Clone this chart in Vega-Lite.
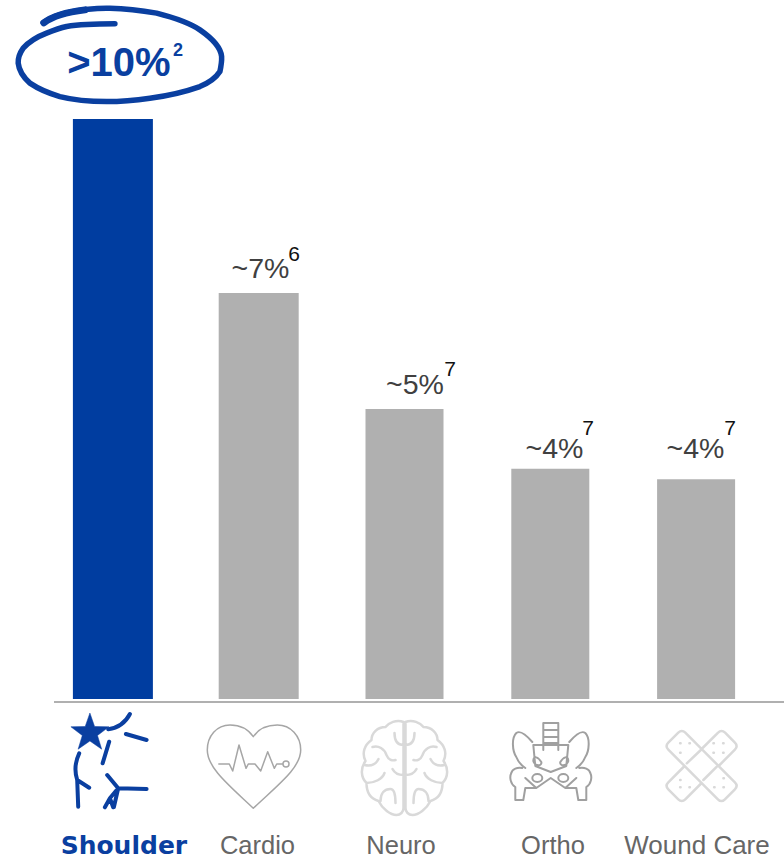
{"$schema":"https://vega.github.io/schema/vega-lite/v6.json","width":784,"height":860,"padding":0,"autosize":{"type":"none"},"background":"white","config":{"view":{"stroke":null}},
"data":{"values":[{"cat":"Shoulder","val":10,"label":">10%","note":"2"},{"cat":"Cardio","val":7,"label":"~7%","note":"6"},{"cat":"Neuro","val":5,"label":"~5%","note":"7"},{"cat":"Ortho","val":3.97,"label":"~4%","note":"7"},{"cat":"Wound Care","val":3.79,"label":"~4%","note":"7"}]},
"encoding":{"x":{"field":"cat","type":"nominal","axis":null,"sort":null,"scale":{"domain":["Shoulder","Cardio","Neuro","Ortho","Wound Care"],"range":[40,769],"paddingInner":0,"paddingOuter":0}},"y":{"field":"val","type":"quantitative","axis":null,"scale":{"domain":[-2.776,12.052],"range":[860,0],"nice":false,"zero":false}}},
"layer":[
{"transform":[{"filter":"datum.cat==='Shoulder'"}],"mark":{"type":"bar","width":80,"color":"#003DA0"},"encoding":{"y2":{"datum":0}}},
{"transform":[{"filter":"datum.cat==='Cardio'"}],"mark":{"type":"bar","width":80,"color":"#B0B0B0"},"encoding":{"y2":{"datum":0}}},
{"transform":[{"filter":"datum.cat!=='Shoulder'&&datum.cat!=='Cardio'"}],"mark":{"type":"bar","width":78,"color":"#B0B0B0"},"encoding":{"y2":{"datum":0}}},
{"transform":[{"filter":"datum.cat==='Shoulder'"}],"mark":{"type":"rule","color":"#B0B0B0","strokeWidth":2},"encoding":{"x":{"datum":"Shoulder","type":"nominal","bandPosition":0.096},"x2":{"datum":"Wound Care","bandPosition":1.103},"y":{"datum":-0.05}}},

{"transform":[{"filter":"datum.cat==='Shoulder'"}],"mark":{"type":"text","font":"Liberation Sans","fontWeight":"bold","fontSize":40,"color":"#0A3FA0","baseline":"alphabetic","dx":6,"dy":-43},"encoding":{"text":{"field":"label"}}},
{"transform":[{"filter":"datum.cat==='Shoulder'"}],"mark":{"type":"text","font":"Liberation Sans","fontWeight":"bold","fontSize":18,"color":"#0A3FA0","baseline":"alphabetic","dx":65,"dy":-63},"encoding":{"text":{"field":"note"}}},
{"transform":[{"filter":"datum.cat==='Cardio'"}],"mark":{"type":"text","font":"Liberation Sans","fontSize":28.5,"color":"#404040","baseline":"alphabetic","dx":1.8,"dy":-15},"encoding":{"text":{"field":"label"}}},
{"transform":[{"filter":"datum.cat==='Cardio'"}],"mark":{"type":"text","font":"Liberation Sans","fontSize":21,"color":"#111111","baseline":"alphabetic","dx":35.3,"dy":-32},"encoding":{"text":{"field":"note"}}},
{"transform":[{"filter":"datum.cat==='Neuro'"}],"mark":{"type":"text","font":"Liberation Sans","fontSize":28.5,"color":"#404040","baseline":"alphabetic","dx":10.5,"dy":-15},"encoding":{"text":{"field":"label"}}},
{"transform":[{"filter":"datum.cat==='Neuro'"}],"mark":{"type":"text","font":"Liberation Sans","fontSize":21,"color":"#111111","baseline":"alphabetic","dx":45.5,"dy":-33},"encoding":{"text":{"field":"note"}}},
{"transform":[{"filter":"datum.cat==='Ortho'"}],"mark":{"type":"text","font":"Liberation Sans","fontSize":28.5,"color":"#404040","baseline":"alphabetic","dx":4.2,"dy":-11},"encoding":{"text":{"field":"label"}}},
{"transform":[{"filter":"datum.cat==='Ortho'"}],"mark":{"type":"text","font":"Liberation Sans","fontSize":21,"color":"#111111","baseline":"alphabetic","dx":37.7,"dy":-34},"encoding":{"text":{"field":"note"}}},
{"transform":[{"filter":"datum.cat==='Wound Care'"}],"mark":{"type":"text","font":"Liberation Sans","fontSize":28.5,"color":"#404040","baseline":"alphabetic","dx":-0.6,"dy":-21},"encoding":{"text":{"field":"label"}}},
{"transform":[{"filter":"datum.cat==='Wound Care'"}],"mark":{"type":"text","font":"Liberation Sans","fontSize":21,"color":"#111111","baseline":"alphabetic","dx":33.9,"dy":-44},"encoding":{"text":{"field":"note"}}},

{"transform":[{"filter":"datum.cat==='Shoulder'"}],"mark":{"type":"text","font":"DejaVu Sans","fontWeight":"bold","fontSize":25,"color":"#0A3FA0","baseline":"alphabetic","dx":11},"encoding":{"y":{"datum":-2.673},"text":{"field":"cat"}}},
{"transform":[{"filter":"datum.cat==='Cardio'"}],"mark":{"type":"text","font":"Liberation Sans","fontSize":25.5,"color":"#666666","baseline":"alphabetic","dx":-1.2},"encoding":{"y":{"datum":-2.673},"text":{"field":"cat"}}},
{"transform":[{"filter":"datum.cat==='Neuro'"}],"mark":{"type":"text","font":"Liberation Sans","fontSize":25.5,"color":"#666666","baseline":"alphabetic","dx":-3.5},"encoding":{"y":{"datum":-2.673},"text":{"field":"cat"}}},
{"transform":[{"filter":"datum.cat==='Ortho'"}],"mark":{"type":"text","font":"Liberation Sans","fontSize":25.5,"color":"#666666","baseline":"alphabetic","dx":2.7},"encoding":{"y":{"datum":-2.673},"text":{"field":"cat"}}},
{"transform":[{"filter":"datum.cat==='Wound Care'"}],"mark":{"type":"text","font":"Liberation Sans","fontSize":26,"color":"#666666","baseline":"alphabetic","dx":0.9},"encoding":{"y":{"datum":-2.673},"text":{"field":"cat"}}},

{"transform":[{"filter":"datum.cat==='Shoulder'"}],"mark":{"type":"point","opacity":1,"filled":false,"fill":"transparent","stroke":"#0A3FA0","strokeWidth":5.5,"strokeCap":"round","size":4,"shape":"M-69.7,-37 C-58,-46 -30,-52 -3,-51.5 C15,-51 30,-49 43.7,-46.7 C62,-42 78,-36 87,-30 C100,-21 108,-12 108.7,-3.3 C109,2 108,7 107,11.7 C103,18 96,23 87,26.7 C72,32 55,36 37,38.3 C22,40.5 8,41.7 -6.3,41.7 C-24,41.7 -40,40 -53,36.7 C-66,33 -76,28 -83,23.3 C-90,17 -94,10 -94.7,3.3 C-95,-2 -93,-7 -89.7,-11.7 C-84,-18 -76,-23 -66.3,-26.7 C-58,-30 -52,-32 -46.3,-33.3 C-30,-36 -15,-36 2,-36"},"encoding":{"y":{"datum":11.02}}},
{"transform":[{"filter":"datum.cat==='Shoulder'"}],"mark":{"type":"point","opacity":1,"filled":false,"fill":"transparent","stroke":"#0A3FA0","strokeWidth":7,"strokeCap":"round","size":4,"shape":"M-69,-37 C-60,-44 -45,-48 -28,-50"},"encoding":{"y":{"datum":11.02}}},

{"transform":[{"filter":"datum.cat==='Shoulder'"}],"mark":{"type":"point","opacity":1,"filled":true,"fill":"#0A3FA0","stroke":"#0A3FA0","strokeWidth":0.5,"size":4,"shape":"M-23,-52 L-18.3,-38.5 L-4,-38.2 L-15.4,-29.5 L-11.2,-15.8 L-23,-24 L-34.8,-15.8 L-30.6,-29.5 L-42,-38.2 L-27.7,-38.5 Z"},"encoding":{"y":{"datum":-1.138}}},
{"transform":[{"filter":"datum.cat==='Shoulder'"}],"mark":{"type":"point","opacity":1,"filled":false,"fill":"transparent","stroke":"#0A3FA0","strokeWidth":4,"strokeCap":"round","strokeJoin":"round","size":4,"shape":"M-4.7,-35.7 Q10.3,-38 17,-51 M13,-31 L33.7,-25 M-3.7,-23.3 L-10.3,-1.7 M-33.7,-11.7 Q-40,1.7 -35.7,15 L-34.7,41.7 M-35.7,15 L-23.7,22.7 M-5.7,10 L5.3,23.3 L33.7,24 M5.3,23.3 L-3,33.3 L-8,42.3 M-3,33.3 L0.3,42.3 M5.3,23.3 L1,42"},"encoding":{"y":{"datum":-1.138}}},

{"transform":[{"filter":"datum.cat==='Cardio'"}],"mark":{"type":"point","opacity":1,"filled":false,"fill":"transparent","stroke":"#A6A6A6","strokeWidth":1.5,"strokeJoin":"round","size":4,"shape":"M-5.4,-28.3 C-12,-38 -20,-40 -28.7,-40 C-42,-40 -51.4,-29 -51.4,-15 C-51.4,3 -30,20 -5.4,43.3 C19,20 42,3 42,-15 C42,-29 32,-40 18.6,-40 C10,-40 1,-38 -5.4,-28.3 Z M-40.4,-1 L-29.4,-1 L-26,6 L-19.7,-20 L-12.7,3.3 L-10.4,-1 L-3.7,-1 L2,6 L9,-13.3 L15.6,3.3 L18,-1 L24.3,-1 M30.3,-1 A3,3 0 1 1 24.3,-1 A3,3 0 1 1 30.3,-1 Z"},"encoding":{"y":{"datum":-1.138}}},

{"transform":[{"filter":"datum.cat==='Neuro'"}],"mark":{"type":"point","opacity":1,"filled":false,"fill":"transparent","stroke":"#D9D9D9","strokeWidth":2.5,"strokeCap":"round","strokeJoin":"round","size":4,"shape":"M-1,-43 C-8,-46 -16,-42 -19,-38 C-27,-38 -33,-32 -33,-25 C-40,-20 -43,-12 -39,-4 C-44,3 -44,12 -38,18 C-38,28 -33,34 -26,36 C-22,44 -14,50 -8,50 C-4,50 -1,47 -1,43 Z M1,-43 C8,-46 16,-42 19,-38 C27,-38 33,-32 33,-25 C40,-20 43,-12 39,-4 C44,3 44,12 38,18 C38,28 33,34 26,36 C22,44 14,50 8,50 C4,50 1,47 1,43 Z M-1,-20 C-8,-20 -10,-26 -10,-32 M-32,-18 C-26,-20 -20,-16 -18,-10 C-16,-5 -12,-4 -9,-5 M-40,0 C-32,2 -28,-2 -26,-6 M-38,18 C-30,18 -22,14 -20,8 M-24,36 C-24,28 -20,24 -14,24 C-10,24 -9,30 -9,38 M-1,10 C-6,10 -10,8 -12,4 M1,-20 C8,-20 10,-26 10,-32 M32,-18 C26,-20 20,-16 18,-10 C16,-5 12,-4 9,-5 M40,0 C32,2 28,-2 26,-6 M38,18 C30,18 22,14 20,8 M24,36 C24,28 20,24 14,24 C10,24 9,30 9,38 M1,10 C6,10 10,8 12,4"},"encoding":{"y":{"datum":-1.138}}},

{"transform":[{"filter":"datum.cat==='Ortho'"}],"mark":{"type":"point","opacity":1,"filled":false,"fill":"transparent","stroke":"#A0A0A0","strokeWidth":2,"strokeCap":"round","strokeJoin":"round","size":4,"shape":"M-7,-15 L-7,-42 L8,-42 L8,-15 M-7,-35 L8,-35 M-7,-28 L8,-28 M-7,-22 L8,-22 M-18,-23 C-24,-30 -30,-35 -34,-32 C-39,-27 -38,-14 -34,-8 C-32,-3 -28,1 -25,3 M19,-23 C25,-30 31,-35 35,-32 C40,-27 39,-14 35,-8 C33,-3 29,1 26,3 M-17,-20 L18,-20 L16,1 L0.4,7 L-15,1 Z M-28,3 C-33,2 -38,4 -39,8 C-41,12 -40,19 -35,22 L-35,35 L-27,35 L-25,23 L-15,23 M29,3 C34,2 39,4 40,8 C42,12 41,19 36,22 L36,35 L28,35 L26,23 L15,23 M-25,13 L-14,23 L0.4,13 L15,23 L26,13 M-18,13 A5,4 0 1 1 -8,13 A5,4 0 1 1 -18,13 Z M8,13 A5,4 0 1 1 18,13 A5,4 0 1 1 8,13 Z M-17,-4 C-17,-10 -12,-8 -9,-3 C-8,1 -15,2 -17,-4 Z M18,-4 C18,-10 13,-8 10,-3 C9,1 16,2 18,-4 Z"},"encoding":{"y":{"datum":-1.138}}},

{"transform":[{"filter":"datum.cat==='Wound Care'"}],"mark":{"type":"point","opacity":1,"filled":false,"fill":"transparent","stroke":"#D9D9D9","strokeWidth":2.5,"strokeCap":"round","strokeJoin":"round","size":4,"shape":"M-10.8,-32.3 L38.8,17.3 Q42.3,20.8 38.8,24.3 L28.8,34.3 Q25.3,37.8 21.8,34.3 L-27.8,-15.3 Q-31.3,-18.8 -27.8,-22.3 L-17.8,-32.3 Q-14.3,-35.8 -10.8,-32.3 Z M5.5,-16 L22,-32.3 Q25.3,-35.8 29,-32.3 L38.8,-22.3 Q42.3,-18.8 38.8,-15.3 L22.5,1 M-11.5,1 L-27.8,17.3 Q-31.3,20.8 -27.8,24.3 L-17.8,34.3 Q-14.3,37.8 -10.8,34.3 L5.5,18 M-9.3,-1.7 L4.7,-15 M7.3,15 L20.7,1.7 M-16,-21.7 h0.5 M-6.7,-21.7 h0.5 M-16,-12.3 h0.5 M17.3,-21.7 h0.5 M27,-21.7 h0.5 M27,-12.3 h0.5 M17.3,-12.3 h0.5 M-16,15 h0.5 M-16,22.3 h0.5 M-6.7,22.3 h0.5 M18,22.3 h0.5 M27.3,22.3 h0.5 M27.3,13.3 h0.5"},"encoding":{"y":{"datum":-1.138}}}
]}
